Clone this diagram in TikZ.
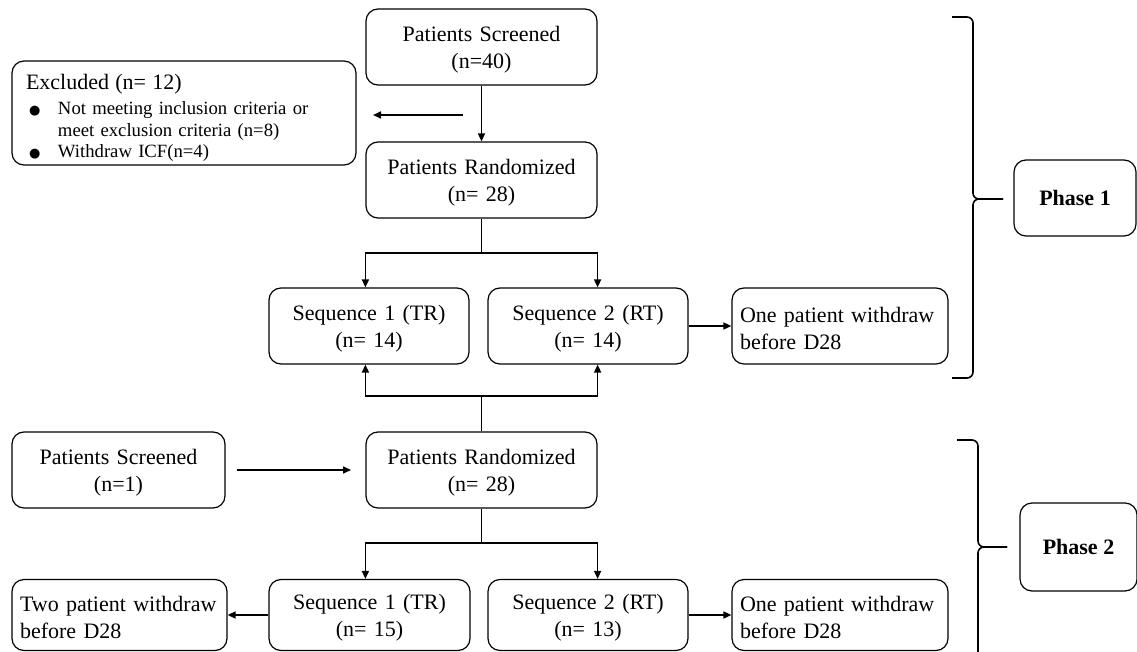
\documentclass[tikz,border=0pt]{standalone}
\usepackage{fontspec}
\setmainfont{Liberation Serif}
\newfontfamily\dejavu{DejaVu Sans}
\usetikzlibrary{arrows.meta}
\newcommand\mybul{{\dejavu\fontsize{13}{13}\selectfont ●}}
\begin{document}
\begin{tikzpicture}[x=1pt,y=-1pt,
  bx/.style={draw, rounded corners=12pt, line width=1.2pt, inner sep=0pt, align=center,
    font=\fontsize{22}{27}\selectfont},
  twoln/.style={bx, minimum height=76pt, execute at begin node={\rule{0pt}{21pt}}},
  midbx/.style={twoln, text width=231pt},
  seqbx/.style={twoln, text width=200pt},
  lbx/.style={twoln, align=left, text width=200pt, inner xsep=8pt},
  phbx/.style={bx, font=\fontsize{22}{24}\selectfont\bfseries},
  arr/.style={line width=1.6pt, -{Triangle[length=8pt,width=7pt]}},
  ln/.style={line width=1.6pt},
  brc/.style={line width=1.6pt, rounded corners=6pt}]
\clip (0,0) rectangle (1137,652);
% ---- Phase 1 ----
\node[midbx] (scr1) at (481.5,47) {Patients Screened\\(n=40)};
\node[bx, align=left, text width=316pt, inner xsep=14pt, minimum height=104pt,
  font=\fontsize{18.7}{21.5}\selectfont] (exc) at (184,113) {%
  \raisebox{0pt}[\dimexpr\height+12pt\relax][\depth]{%
  \begin{tabular}{@{}p{32pt}@{}l@{}}
  \multicolumn{2}{@{}l@{}}{\fontsize{22}{24}\selectfont Excluded (n= 12)}\\[4pt]
  \hspace*{3pt}\mybul & Not meeting inclusion criteria or\\
   & meet exclusion criteria (n=8)\\
  \hspace*{3pt}\mybul & Withdraw ICF(n=4)
  \end{tabular}}};
\node[midbx] (ran1) at (481.5,180) {Patients Randomized\\(n= 28)};
\node[seqbx] (s11) at (369,326) {Sequence 1 (TR)\\(n= 14)};
\node[seqbx] (s12) at (588,326) {Sequence 2 (RT)\\(n= 14)};
\node[lbx] (w1) at (840,326) {One patient withdraw\\before D28};
\node[phbx, minimum width=122pt, minimum height=76pt] (ph1) at (1075,198) {Phase 1};

\coordinate (ea1) at (463,115);
\coordinate (ea2) at (373,115);
\draw[arr] (ea1) -- (ea2);
\draw[arr] (scr1) -- (ran1);
\coordinate (j1) at (481.5,253);
\draw[ln] (ran1) -- (j1);
\draw[arr] (j1) -| (s11.north -| ran1.west);
\draw[arr] (j1) -| (s12.north -| ran1.east);
\draw[arr] (s12) -- (w1);

% ---- Phase 2 ----
\node[midbx] (ran2) at (481.5,470) {Patients Randomized\\(n= 28)};
\node[twoln, text width=213pt] (scr2) at (118.5,470) {Patients Screened\\(n=1)};
\coordinate (j2) at (481.5,396);
\draw[ln] (ran2) -- (j2);
\draw[arr] (j2) -| (s11.south -| ran1.west);
\draw[arr] (j2) -| (s12.south -| ran1.east);
\coordinate (pa1) at (237,470);
\coordinate (pa2) at (351,470);
\draw[arr] (pa1) -- (pa2);

\node[seqbx, text width=201pt, minimum height=71pt] (s21) at (369.5,615) {Sequence 1 (TR)\\(n= 15)};
\node[seqbx, minimum height=71pt] (s22) at (588,615) {Sequence 2 (RT)\\(n= 13)};
\node[lbx, minimum height=71pt] (w2) at (840,615) {One patient withdraw\\before D28};
\node[lbx, text width=199pt, minimum height=71pt] (w3) at (119.5,615) {Two patient withdraw\\before D28};
\coordinate (j3) at (481.5,543);
\draw[ln] (ran2) -- (j3);
\draw[arr] (j3) -| (s21.north -| ran2.west);
\draw[arr] (j3) -| (s22.north -| ran2.east);
\draw[arr] (s22) -- (w2);
\draw[arr] (s21) -- (w3);

\node[phbx, minimum width=117pt, minimum height=88pt] (ph2) at (1078.5,547) {Phase 2};

% ---- braces ----
\draw[brc] (952,17) -- (973,17) -- (973,199) -- (1003,199);
\draw[brc] (952,378) -- (973,378) -- (973,199) -- (1003,199);
\draw[brc] (957,440) -- (978,440) -- (978,547) -- (1007,547);
\draw[brc] (978,700) -- (978,547) -- (1007,547);
\end{tikzpicture}
\end{document}
